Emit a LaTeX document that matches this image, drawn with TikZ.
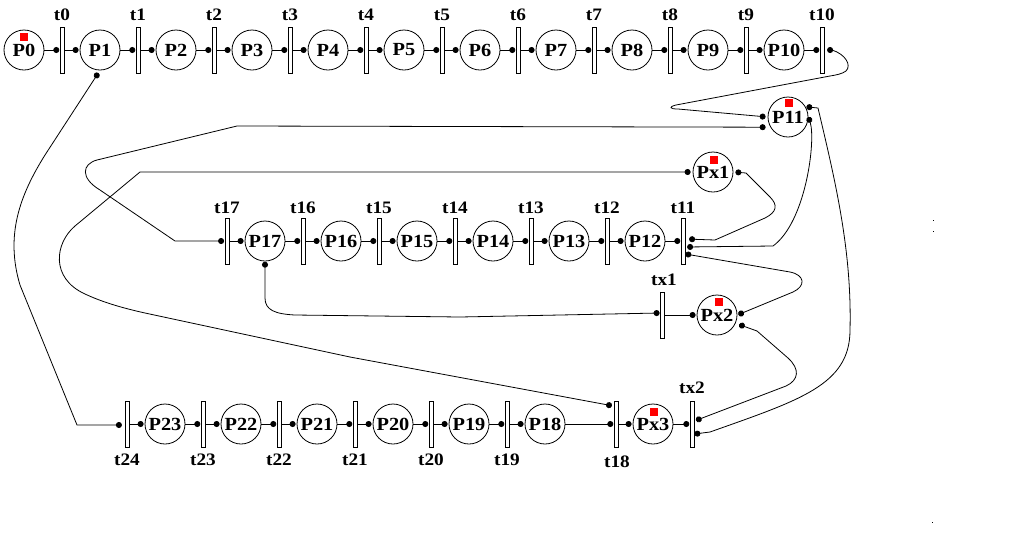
\documentclass[tikz,border=0pt]{standalone}
\usepackage{fontspec}
\setmainfont{Liberation Serif}[FakeStretch=1.1]
\usetikzlibrary{arrows.meta,calc}
\begin{document}
\begin{tikzpicture}[x=1pt,y=-1pt,line width=0.8pt,
  >={Circle[length=6pt,width=6pt]},
  place/.style={circle,draw,minimum size=40pt,inner sep=0pt,font=\bfseries\fontsize{18.5}{18.5}\selectfont},
  trans/.style={rectangle,draw,fill=white,minimum width=4pt,minimum height=46pt,inner sep=0pt},
  tlab/.style={inner sep=0pt,font=\bfseries\fontsize{17.5}{17.5}\selectfont},
  token/.style={fill=red,minimum size=7.5pt,inner sep=0pt},
  toT/.style={->,shorten >=0.3pt},
  toP/.style={->,shorten >=1pt}
]
\fill[white] (0,0) rectangle (1009,550);
\useasboundingbox (0,0) rectangle (1009,550);

% ---- top row
\foreach \i in {0,...,10} {
  \node[place] (P\i) at ({24+76*\i},50) {P\i};
  \node[trans] (t\i) at ({62+76*\i},50) {};
  \node[tlab] (lt\i) at ({62+76*\i},15) {t\i};
}
% ---- middle row
\foreach \k in {11,...,17} {
  \node[trans] (t\k) at ({683-76*(\k-11)},241) {};
  \node[tlab] (lt\k) at ({683-76*(\k-11)},208) {t\k};
}
\foreach \k in {12,...,17} {
  \node[place] (P\k) at ({645-76*(\k-12)},241) {P\k};
}
\node[place] (P11) at (788,117) {P11};
\node[place] (Px1) at (713,172) {Px1};
\node[trans] (tx1) at (662,315) {};
\node[tlab] (ltx1) at (664,280) {tx1};
\node[place] (Px2) at (717,315) {Px2};
% ---- bottom row
\foreach \k in {19,...,24} {
  \node[trans] (t\k) at ({507-76*(\k-19)},424) {};
  \node[tlab] (lt\k) at ({507-76*(\k-19)},460) {t\k};
}
\foreach \k in {18,...,23} {
  \node[place] (P\k) at ({545-76*(\k-18)},424) {P\k};
}
\node[trans] (t18) at (616,424) {};
\node[tlab] (lt18) at (617,462) {t18};
\node[place] (Px3) at (653,424) {Px3};
\node[trans] (tx2) at (692,424) {};
\node[tlab] (ltx2) at (692,388) {tx2};

% ---- tokens
\node[token] (k0) at (24,37) {};
\node[token] (k11) at (789,103) {};
\node[token] (kx1) at (714,160) {};
\node[token] (kx2) at (719,302) {};
\node[token] (kx3) at (654,412) {};

% ---- straight arcs
\foreach \i in {0,...,10} { \draw[toT] (P\i) -- (t\i); }
\foreach \i in {0,...,9} { \pgfmathtruncatemacro\j{\i+1} \draw[toP] (t\i) -- (P\j); }
\draw[toT] (P12) -- (t11);
\foreach \k in {12,...,17} { \draw[toP] (t\k) -- (P\k); }
\foreach \k in {13,...,17} { \pgfmathtruncatemacro\j{\k-1} \draw[toT] (P\k) -- (t\j); }
\foreach \k in {19,...,24} { \pgfmathtruncatemacro\j{\k-1} \draw[toP] (t\k) -- (P\j); }
\foreach \k in {19,...,23} { \draw[toT] (P\k) -- (t\k); }
\draw[toT] (P18) -- (t18);
\draw[toP] (t18) -- (Px3);
\draw[toT] (Px3) -- (tx2);
\draw[toP] (tx1) -- (Px2);

% ---- anchor points
\coordinate (t11a) at ($(t11.east)+(0,-2)$);
\coordinate (t11b) at ($(t11.east)+(0,6)$);
\coordinate (t11c) at ($(t11.east)+(0,13)$);
\coordinate (tx2a) at ($(tx2.east)+(0,-3)$);
\coordinate (tx2b) at ($(tx2.east)+(0,10)$);
\coordinate (t18a) at ($(t18.west)+(0,-18)$);
\coordinate (tx1a) at ($(tx1.west)+(0,-2)$);
\coordinate (t24a) at ($(t24.west)+(0,1)$);

% ---- long arcs
% t10 -> P11
\draw[<->,shorten <=2.7pt,shorten >=2pt] (t10.east) -- (832,50)
  .. controls (845,54) and (852,65) .. (846,71)
  .. controls (842,74) and (836,75) .. (830,76)
  -- (676,105) .. controls (668,107) and (670,109) .. (678,109) -- (P11.west);
% P11 -> t17
\draw[<->,shorten <=4.7pt,shorten >=0.5pt] (P11.210) -- (237,126) -- (97,160)
  .. controls (82,164) and (80,178) .. (100,190) -- (175,241) -- (t17.west);
% P11 -> tx2 (far right)
\draw[<->,shorten <=0.7pt,shorten >=0pt] (P11.30) -- (818,108)
  .. controls (835,180) and (852,250) .. (850,330)
  .. controls (850,385) and (800,400) .. (710,432) -- (tx2b);
% P11 -> t11
\draw[<->,shorten <=0pt,shorten >=1.7pt] (P11.east)
  .. controls (816,140) and (806,222) .. (773,246) -- (t11b);
% Px1 -> t11
\draw[<->,shorten <=2pt,shorten >=3.7pt] (Px1.east) -- (746,173) -- (770,197)
  .. controls (778,205) and (777,212) .. (765,218) -- (715,240) -- (t11a);
% t11 -> Px2
\draw[<->,shorten <=0pt,shorten >=1pt] (t11c) -- (790,272)
  .. controls (805,275) and (806,286) .. (793,292) -- (Px2.east);
% Px2 -> tx2
\draw[<->,shorten <=3.7pt,shorten >=1.7pt] (Px2.336) -- (757,331) -- (788,358)
  .. controls (800,369) and (799,380) .. (786,386) -- (tx2a);
% P17 -> tx1
\draw[<->,shorten <=0.3pt,shorten >=0pt] (P17.south) -- (265,298)
  .. controls (265,310) and (275,314) .. (295,315) -- (460,317) -- (tx1a);
% Px1 -> t18
\draw[<->,shorten <=2pt,shorten >=1.7pt] (Px1.west) -- (140,172) -- (75,226)
  .. controls (55,243) and (50,278) .. (85,294)
  .. controls (100,301) and (118,307) .. (145,313) -- (350,357) -- (t18a);
% P1 -> t24
\draw[<->,shorten <=3pt,shorten >=2.7pt] (P1.south) -- (45,155)
  .. controls (20,195) and (5,235) .. (20,285) -- (77,425) -- (t24a);

% ---- stray specks
\fill (932.8,219.5) rectangle (933.8,220.5);
\fill (932.8,230.5) rectangle (933.8,231.5);
\fill (931.8,521.5) rectangle (932.8,522.5);
\end{tikzpicture}
\end{document}
